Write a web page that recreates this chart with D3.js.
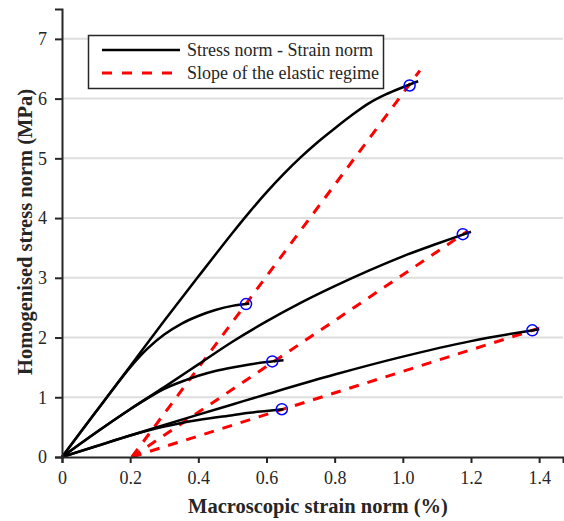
<!DOCTYPE html>
<html lang="en">
<head>
<meta charset="UTF-8" />
<title>Homogenised stress vs strain</title>
<script src="https://cdn.jsdelivr.net/npm/d3@7"></script>
<style>
  body { margin: 0; background: #fff; }
</style>
</head>
<body>
<svg id="chart" width="564" height="521" font-family="'Liberation Serif', 'DejaVu Serif', serif"></svg>
<script>
// stress-strain curves, [strain %, stress MPa]
var curve1 = [[0,0],[0.1,0.76],[0.2,1.52],[0.3,2.28],[0.4,3.02],[0.5,3.75],[0.55,4.1],[0.6,4.43],[0.65,4.735],[0.7,5.015],[0.75,5.27],[0.8,5.5],[0.85,5.72],[0.9,5.92],[0.95,6.07],[1.0,6.19],[1.045,6.29]];
var curve2 = [[0,0],[0.1,0.76],[0.2,1.5],[0.25,1.81],[0.3,2.05],[0.35,2.23],[0.4,2.36],[0.45,2.46],[0.5,2.53],[0.55,2.57]];
var curve3 = [[0,0],[0.1,0.41],[0.2,0.8],[0.3,1.17],[0.4,1.55],[0.5,1.93],[0.6,2.27],[0.7,2.58],[0.8,2.86],[0.9,3.12],[1.0,3.36],[1.1,3.57],[1.2,3.77]];
var curve4 = [[0,0],[0.1,0.41],[0.2,0.8],[0.3,1.14],[0.35,1.26],[0.4,1.36],[0.45,1.44],[0.5,1.5],[0.55,1.55],[0.6,1.59],[0.65,1.62]];
var curve5 = [[0,0],[0.2,0.36],[0.4,0.71],[0.5,0.88],[0.6,1.05],[0.8,1.38],[1.0,1.68],[1.2,1.94],[1.4,2.14]];
var curve6 = [[0,0],[0.1,0.18],[0.2,0.36],[0.3,0.51],[0.4,0.62],[0.5,0.7],[0.55,0.74],[0.6,0.77],[0.65,0.8]];

// elastic slope lines
var slopeA = [[0.205,0],[1.05,6.47]];
var slopeB = [[0.205,0],[1.19,3.78]];
var slopeC = [[0.205,0],[1.4,2.155]];

// marked points (blue circles)
var markers = [[1.02,6.22],[0.54,2.56],[1.176,3.73],[0.617,1.6],[1.38,2.12],[0.645,0.8]];

var xTicks = [0,0.2,0.4,0.6,0.8,1.0,1.2,1.4];
var xTickLabels = ["0","0.2","0.4","0.6","0.8","1.0","1.2","1.4"];
var yTicks = [0,1,2,3,4,5,6,7];

var legendLabels = ["Stress norm - Strain norm", "Slope of the elastic regime"];

var FONT = "'Liberation Serif', 'DejaVu Serif', serif";
var svg = d3.select("#chart");
var margin = {left: 62, right: 1, top: 9, bottom: 64};
var W = 564, H = 521;

var x = d3.scaleLinear().domain([0, 1.47]).range([margin.left, W - margin.right]);
var y = d3.scaleLinear().domain([0, 7.5]).range([H - margin.bottom, margin.top]);

// gridlines
svg.append("g").selectAll("line").data(yTicks.filter(function(d){ return d > 0; }))
  .join("line")
  .attr("x1", x(0)).attr("x2", W - margin.right)
  .attr("y1", function(d){ return y(d); }).attr("y2", function(d){ return y(d); })
  .attr("stroke", "#dedede").attr("stroke-width", 2);

var line = d3.line().x(function(d){ return x(d[0]); }).y(function(d){ return y(d[1]); });
var smooth = d3.line().x(function(d){ return x(d[0]); }).y(function(d){ return y(d[1]); }).curve(d3.curveCatmullRom.alpha(0.5));

// dashed slopes
svg.append("g").selectAll("path").data([slopeA, slopeB, slopeC])
  .join("path")
  .attr("d", line)
  .attr("fill", "none").attr("stroke", "#ff0000").attr("stroke-width", 3)
  .attr("stroke-dasharray", "10,9");

// curves
svg.append("g").selectAll("path").data([curve1, curve2, curve3, curve4, curve5, curve6])
  .join("path")
  .attr("d", smooth)
  .attr("fill", "none").attr("stroke", "#000").attr("stroke-width", 2.5);

// markers
svg.append("g").selectAll("circle").data(markers)
  .join("circle")
  .attr("cx", function(d){ return x(d[0]); }).attr("cy", function(d){ return y(d[1]); })
  .attr("r", 5.5)
  .attr("fill", "none").attr("stroke", "#0000ff").attr("stroke-width", 1.5);

// axes
var xAxis = svg.append("g").attr("transform", "translate(0," + y(0) + ")")
  .call(d3.axisBottom(x).tickValues(xTicks).tickFormat(function(d, i){ return xTickLabels[i]; }).tickSizeOuter(0).tickSize(6).tickPadding(8));
var yAxis = svg.append("g").attr("transform", "translate(" + x(0) + ",0)")
  .call(d3.axisLeft(y).tickValues(yTicks).tickFormat(d3.format("d")).tickSizeOuter(0).tickSize(7).tickPadding(8));

[xAxis, yAxis].forEach(function(g){
  g.attr("font-family", FONT).attr("font-size", 18);
  g.select(".domain").attr("stroke", "#262626").attr("stroke-width", 2);
  g.selectAll(".tick line").attr("stroke", "#262626").attr("stroke-width", 2);
  g.selectAll(".tick text").attr("fill", "#262626");
});

// axis titles
svg.append("text")
  .attr("x", 318).attr("y", 513)
  .attr("text-anchor", "middle")
  .attr("font-family", FONT)
  .attr("font-size", 20.5).attr("font-weight", "bold").attr("fill", "#262626")
  .text("Macroscopic strain norm (%)");

svg.append("text")
  .attr("transform", "translate(32,232) rotate(-90)")
  .attr("text-anchor", "middle")
  .attr("font-family", FONT)
  .attr("font-size", 20.5).attr("font-weight", "bold").attr("fill", "#262626")
  .text("Homogenised stress norm (MPa)");

// legend
var lg = svg.append("g");
lg.append("rect")
  .attr("x", 88.5).attr("y", 35.5).attr("width", 295).attr("height", 53)
  .attr("fill", "#fff").attr("stroke", "#262626").attr("stroke-width", 1.5);
lg.append("line").attr("x1", 102).attr("x2", 180).attr("y1", 50).attr("y2", 50)
  .attr("stroke", "#000").attr("stroke-width", 2.5);
lg.append("line").attr("x1", 102).attr("x2", 172).attr("y1", 73).attr("y2", 73)
  .attr("stroke", "#ff0000").attr("stroke-width", 3).attr("stroke-dasharray", "10,10");
lg.selectAll("text").data(legendLabels).join("text")
  .attr("x", 187).attr("y", function(d, i){ return 56 + i * 23; })
  .attr("font-family", FONT).attr("font-size", 18).attr("fill", "#262626")
  .text(function(d){ return d; });
</script>
</body>
</html>
